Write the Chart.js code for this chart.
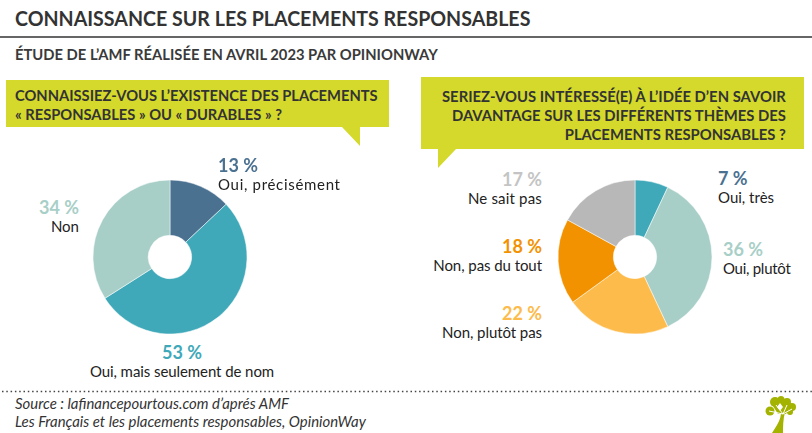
<!DOCTYPE html>
<html lang="fr"><head><meta charset="utf-8">
<script src="https://cdn.jsdelivr.net/npm/chart.js@4/dist/chart.umd.min.js"></script>
<style>
html,body{margin:0;padding:0;background:#fff;width:812px;height:433px;overflow:hidden}
body{font-family:"Lato",sans-serif;color:#333;position:relative}
.t{position:absolute;white-space:nowrap}
.abs{position:absolute}
.h{font-weight:700;font-size:18px;line-height:19px;height:19px}
.n{font-size:15px;line-height:18px;color:#222;display:inline-block;vertical-align:top}
canvas{position:absolute}
</style></head><body>
<div class="t" data-w="515" style="left:15px;top:4px;font-size:21.5px;line-height:28px;font-weight:700;color:#333">CONNAISSANCE SUR LES PLACEMENTS RESPONSABLES</div>
<div class="abs" style="left:0;top:36px;width:812px;height:2px;background:#666"></div>
<div class="t" data-w="423" style="left:15px;top:44px;font-size:15px;line-height:20px;font-weight:700;color:#3a3a3a">ÉTUDE DE L’AMF RÉALISÉE EN AVRIL 2023 PAR OPINIONWAY</div>

<svg class="abs" style="left:0;top:0" width="812" height="433">
<polygon points="6,80 389,80 389,127 360,127 360,146 342,127 6,127" fill="#d4d92c"/>
<polygon points="421,77 804,77 804,149 456,149 438,168 438,149 421,149" fill="#d4d92c"/>
<line x1="2" y1="391.5" x2="812" y2="391.5" stroke="#444" stroke-width="1.5" stroke-dasharray="1.5 2.8"/>
<g fill="#a3b300">
<path d="M772 433 C777 425 781 420 781 412 L785 412 C783 420 783 427 783 433 Z"/>
<circle cx="775" cy="402" r="5"/><circle cx="770" cy="411" r="4.5"/><circle cx="781" cy="399.5" r="3.5"/>
<circle cx="787" cy="402" r="4"/><circle cx="792" cy="407" r="4"/><circle cx="790" cy="412" r="3"/>
<path d="M771 403 L782 400 L791 405 L786 414 L778 414 Z"/>
</g>
<g stroke="#fff" stroke-width="1" fill="none"><path d="M783 414 L769 411 M783 414 L776 405 M783 414 L787 405 M783 414 L792 409"/></g>
<polygon points="780,403 783,407 780,411 777,407" fill="#fff"/>
</svg>

<div class="t" data-w="363" style="left:15px;top:86px;font-size:15.5px;line-height:19px;font-weight:700;color:#333">CONNAISSIEZ-VOUS L’EXISTENCE DES PLACEMENTS<br>« RESPONSABLES » OU « DURABLES » ?</div>
<div class="t" data-w="344" style="right:26px;top:87px;text-align:right;font-size:15.5px;line-height:19.2px;font-weight:700;color:#333">SERIEZ-VOUS INTÉRESSÉ(E) À L’IDÉE D’EN SAVOIR<br>DAVANTAGE SUR LES DIFFÉRENTS THÈMES DES<br>PLACEMENTS RESPONSABLES ?</div>

<canvas id="c1" width="164" height="164" style="left:88px;top:175px;width:164px;height:164px"></canvas>
<canvas id="c2" width="164" height="164" style="left:553px;top:175px;width:164px;height:164px"></canvas>
<div id="labels"></div>

<div class="t" data-w="351" style="left:15px;top:395px;font-size:15px;line-height:17.5px;font-style:italic;color:#333">Source : lafinancepourtous.com d’aprés AMF<br>Les Français et les placements responsables, OpinionWay</div>

<script>
const knowCategories = ["Oui, précisément","Oui, mais seulement de nom","Non"];
const knowValues = [13,53,34];
const knowColors = ["#4b7191","#3fa9b9","#a8cfc7"];
const interestCategories = ["Oui, très","Oui, plutôt","Non, plutôt pas","Non, pas du tout","Ne sait pas"];
const interestValues = [7,36,22,18,17];
const interestColors = ["#3fa9b9","#a8cfc7","#fdbb4b","#f39200","#b8b8b8"];
const interestLabelColors = ["#4b7191","#a8cfc7","#fdbb4b","#f39200","#c4c4c4"];

function donut(id,labels,data,colors){
  new Chart(document.getElementById(id),{
    type:'doughnut',
    data:{labels,datasets:[{data,backgroundColor:colors,borderColor:'#fff',borderWidth:0.5}]},
    options:{responsive:false,animation:false,cutout:23,radius:77,
      layout:{padding:0},plugins:{legend:{display:false},tooltip:{enabled:false}}}
  });
}
donut('c1',knowCategories,knowValues,knowColors);
donut('c2',interestCategories,interestValues,interestColors);

// x, top, anchor, width of the category text
const placeK = [[218,156,'l',123],[182,343,'c',184],[79,198,'r',28]];
const placeI = [[718,169,'l',56],[723,240,'l',68],[542,304,'r',100],[542,237,'r',109],[542,170,'r',74]];
const root = document.getElementById('labels');
function addLabels(cats,vals,cols,places){
  cats.forEach((c,i)=>{
    const [x,y,a,w]=places[i];
    const d=document.createElement('div');
    d.className='t';
    d.style.top=y+'px';
    d.style.textAlign={l:'left',r:'right',c:'center'}[a];
    if(a==='l') d.style.left=x+'px';
    if(a==='r') d.style.right=(812-x)+'px';
    if(a==='c'){d.style.left=x+'px';d.style.transform='translateX(-50%)';}
    d.innerHTML='<div class="h" style="color:'+cols[i]+'">'+vals[i]+' %</div>';
    const n=document.createElement('div');
    n.className='n'; n.textContent=c;
    d.appendChild(n);
    root.appendChild(d);
    n.style.letterSpacing=((w-n.offsetWidth)/c.length)+'px';
  });
}
addLabels(knowCategories,knowValues,knowColors,placeK);
addLabels(interestCategories,interestValues,interestLabelColors,placeI);

document.querySelectorAll('[data-w]').forEach(el=>{
  const s=el.dataset.w/el.offsetWidth;
  el.style.transformOrigin=el.style.right?'right top':'left top';
  el.style.transform='scaleX('+s+')';
});
</script>
</body></html>
